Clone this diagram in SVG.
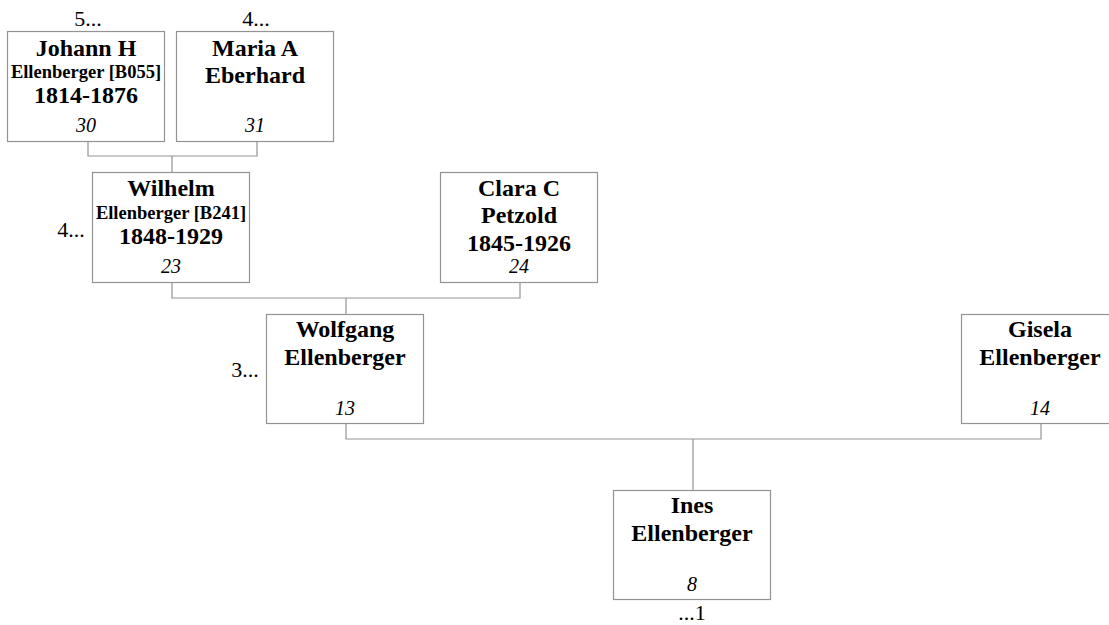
<svg xmlns="http://www.w3.org/2000/svg" width="1109" height="625" viewBox="0 0 1109 625">
<style>
.box{fill:#fff;stroke:#939393;stroke-width:1.2}
.con{fill:none;stroke:#939393;stroke-width:1.2}
text{font-family:"Liberation Serif","Times New Roman",serif;fill:#000;text-anchor:middle}
.n{font-size:24px;font-weight:bold}
.s{font-size:18.5px;font-weight:bold}
.id{font-size:20px;font-style:italic}
.lbl{font-size:22px}
</style>
<rect width="1109" height="625" fill="#fff"/>
<g id="connectors">
<path class="con" d="M88,141 V156 H257 V141 M172,156 V172"/>
<path class="con" d="M172,282 V298 H520 V282 M346,298 V314"/>
<path class="con" d="M346,424 V439 H1041 V424 M693,439 V490"/>
</g>
<g id="n30">
<rect class="box" x="7.5" y="31.5" width="157" height="110"/>
<text class="n" x="86" y="55.5">Johann H</text>
<text class="s" x="86" y="77.5">Ellenberger [B055]</text>
<text class="n" x="86" y="102.5">1814-1876</text>
<text class="id" x="86" y="131.5">30</text>
<text class="lbl" x="88" y="26">5...</text>
</g>
<g id="n31">
<rect class="box" x="176.5" y="31.5" width="157" height="110"/>
<text class="n" x="255" y="55.5">Maria A</text>
<text class="n" x="255" y="83">Eberhard</text>
<text class="id" x="255" y="131.5">31</text>
<text class="lbl" x="256" y="26">4...</text>
</g>
<g id="n23">
<rect class="box" x="92.5" y="172.5" width="157" height="110"/>
<text class="n" x="171" y="196">Wilhelm</text>
<text class="s" x="171" y="219">Ellenberger [B241]</text>
<text class="n" x="171" y="244">1848-1929</text>
<text class="id" x="171" y="273">23</text>
<text class="lbl" x="71" y="237">4...</text>
</g>
<g id="n24">
<rect class="box" x="440.5" y="172.5" width="157" height="110"/>
<text class="n" x="519" y="195.5">Clara C</text>
<text class="n" x="519" y="223">Petzold</text>
<text class="n" x="519" y="250.5">1845-1926</text>
<text class="id" x="519" y="273">24</text>
</g>
<g id="n13">
<rect class="box" x="266.5" y="314.5" width="157" height="109"/>
<text class="n" x="345" y="337">Wolfgang</text>
<text class="n" x="345" y="365">Ellenberger</text>
<text class="id" x="345" y="415">13</text>
<text class="lbl" x="245" y="377">3...</text>
</g>
<g id="n14">
<rect class="box" x="961.5" y="314.5" width="157" height="109"/>
<text class="n" x="1040" y="337">Gisela</text>
<text class="n" x="1040" y="365">Ellenberger</text>
<text class="id" x="1040" y="415">14</text>
</g>
<g id="n8">
<rect class="box" x="613.5" y="490.5" width="157" height="109"/>
<text class="n" x="692" y="513">Ines</text>
<text class="n" x="692" y="541">Ellenberger</text>
<text class="id" x="692" y="591">8</text>
<text class="lbl" x="692" y="620">...1</text>
</g>
</svg>
